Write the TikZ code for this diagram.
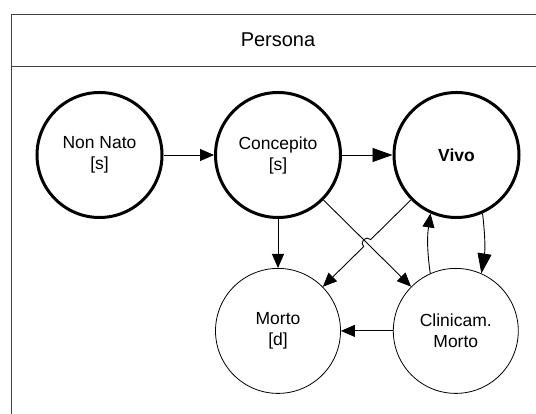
\documentclass[tikz,border=0pt]{standalone}
\usepackage{fontspec}
\setmainfont{Liberation Sans}
\usetikzlibrary{arrows.meta, positioning, calc}

\begin{document}
\begin{tikzpicture}[x=1pt, y=1pt,
    state/.style={draw, circle, minimum size=125pt, inner sep=0pt, align=center, font=\fontsize{17.5}{21}\selectfont},
    live/.style={state, line width=3pt},
    dead/.style={state, line width=0.8pt},
    frame/.style={draw=black!75, line width=1pt},
    arr/.style={-{Triangle[length=14pt, width=12pt]}, line width=0.9pt},
    bigarr/.style={-{Triangle[length=20pt, width=14pt]}, line width=0.9pt},
  ]
  \useasboundingbox (0,0) rectangle (536,414);
  \clip (0,0) rectangle (536,414);

  \draw[frame] (11,-10) rectangle (545,399.6);
  \draw[frame] (11,347.3) -- (545,347.3);
  \node[font=\fontsize{20}{24}\selectfont] (title) at (278,374) {Persona};

  \node[live] (non_nato) at (99.5,259) {Non Nato\\{}[s]};
  \node[live, right=50.5pt of non_nato] (concepito) {Concepito\\{}[s]};
  \node[live, right=50.5pt of concepito, font=\fontsize{17.5}{21}\selectfont\bfseries] (vivo) {Vivo};
  \node[dead, below=49pt of concepito] (morto) {Morto\\{}[d]};
  \node[dead, right=52pt of morto] (clin_morto) {Clinicam.\\Morto};

  \draw[arr] (non_nato) -- (concepito);
  \draw[bigarr] (concepito) -- (vivo);
  \draw[arr] (concepito) -- (morto);
  \draw[arr] (concepito) -- (clin_morto);

  \coordinate (hop) at (intersection of concepito--clin_morto and vivo--morto);
  \draw[arr] (vivo) -- ($(hop)!5pt!(vivo)$) arc[start angle=45, end angle=225, radius=5pt] -- (morto);

  \draw[bigarr] (vivo.-66) to[bend left=8] (clin_morto.66);
  \draw[arr] (clin_morto.114) to[bend left=8] (vivo.-114);
  \draw[arr] (clin_morto) -- (morto);
\end{tikzpicture}
\end{document}
